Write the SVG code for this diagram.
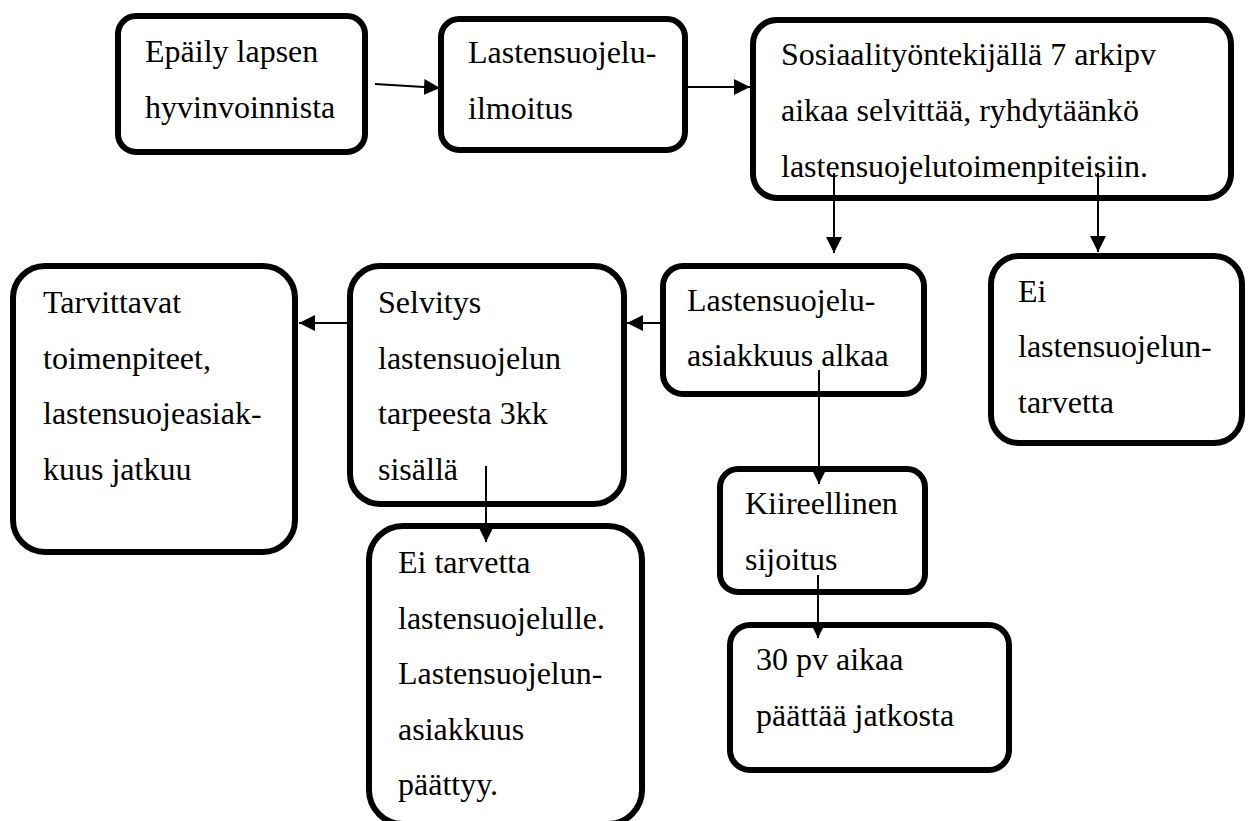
<svg xmlns="http://www.w3.org/2000/svg" width="1249" height="821" viewBox="0 0 1249 821">
<style>
.box{fill:#fff;stroke:#000;stroke-width:6}
text{font-family:'Liberation Serif','Times New Roman','DejaVu Serif',serif;font-size:32px;fill:#000}
.c{stroke:#000;stroke-width:2;fill:none}
</style>
<defs>
<marker id="ah" viewBox="0 0 10 10" refX="10" refY="5" markerWidth="16" markerHeight="16" markerUnits="userSpaceOnUse" orient="auto">
<path d="M0,0 L10,5 L0,10 z" fill="#000"/>
</marker>
</defs>
<rect width="1249" height="821" fill="#fff"/>
<g font-family="Liberation Serif, serif" font-size="32">
<g id="n1"><rect class="box" x="118" y="16" width="247" height="136" rx="18"/>
<text x="145" y="62">Epäily lapsen</text><text x="145" y="118">hyvinvoinnista</text></g>
<g id="n2"><rect class="box" x="441" y="19" width="244" height="131" rx="18"/>
<text x="468" y="63">Lastensuojelu-</text><text x="468" y="119">ilmoitus</text></g>
<g id="n3"><rect class="box" x="753" y="20" width="478" height="178" rx="24"/>
<text x="781" y="65">Sosiaalityöntekijällä 7 arkipv</text><text x="781" y="121">aikaa selvittää, ryhdytäänkö</text><text x="781" y="177">lastensuojelutoimenpiteisiin.</text></g>
<g id="n4"><rect class="box" x="663" y="266" width="261" height="128" rx="20"/>
<text x="687" y="311">Lastensuojelu-</text><text x="687" y="366">asiakkuus alkaa</text></g>
<g id="n5"><rect class="box" x="991" y="256" width="251" height="187" rx="28"/>
<text x="1018" y="302">Ei</text><text x="1018" y="357">lastensuojelun-</text><text x="1018" y="413">tarvetta</text></g>
<g id="n6"><rect class="box" x="350" y="266" width="274" height="238" rx="30"/>
<text x="378" y="313">Selvitys</text><text x="378" y="369">lastensuojelun</text><text x="378" y="424">tarpeesta 3kk</text><text x="378" y="480">sisällä</text></g>
<g id="n7"><rect class="box" x="13" y="266" width="282" height="286" rx="32"/>
<text x="43" y="313">Tarvittavat</text><text x="43" y="369">toimenpiteet,</text><text x="43" y="424">lastensuojeasiak-</text><text x="43" y="480">kuus jatkuu</text></g>
<g id="n8"><rect class="box" x="369" y="526" width="273" height="298" rx="34"/>
<text x="398" y="573">Ei tarvetta</text><text x="398" y="629">lastensuojelulle.</text><text x="398" y="684">Lastensuojelun-</text><text x="398" y="740">asiakkuus</text><text x="398" y="795">päättyy.</text></g>
<g id="n9"><rect class="box" x="720" y="469" width="205" height="123" rx="18"/>
<text x="745" y="514">Kiireellinen</text><text x="745" y="570">sijoitus</text></g>
<g id="n10"><rect class="box" x="730" y="625" width="279" height="145" rx="20"/>
<text x="756" y="670">30 pv aikaa</text><text x="756" y="726">päättää jatkosta</text></g>
</g>
<g id="connectors">
<line class="c" x1="375" y1="84" x2="440" y2="88" marker-end="url(#ah)"/>
<line class="c" x1="688" y1="87" x2="750" y2="87" marker-end="url(#ah)"/>
<line class="c" x1="834" y1="173" x2="834" y2="253" marker-end="url(#ah)"/>
<line class="c" x1="1098" y1="173" x2="1098" y2="252" marker-end="url(#ah)"/>
<line class="c" x1="660" y1="323" x2="627" y2="323" marker-end="url(#ah)"/>
<line class="c" x1="347" y1="323" x2="299" y2="323" marker-end="url(#ah)"/>
<line class="c" x1="486" y1="466" x2="486" y2="542" marker-end="url(#ah)"/>
<line class="c" x1="819" y1="370" x2="819" y2="484" marker-end="url(#ah)"/>
<line class="c" x1="818" y1="575" x2="818" y2="638" marker-end="url(#ah)"/>
</g>
</svg>
